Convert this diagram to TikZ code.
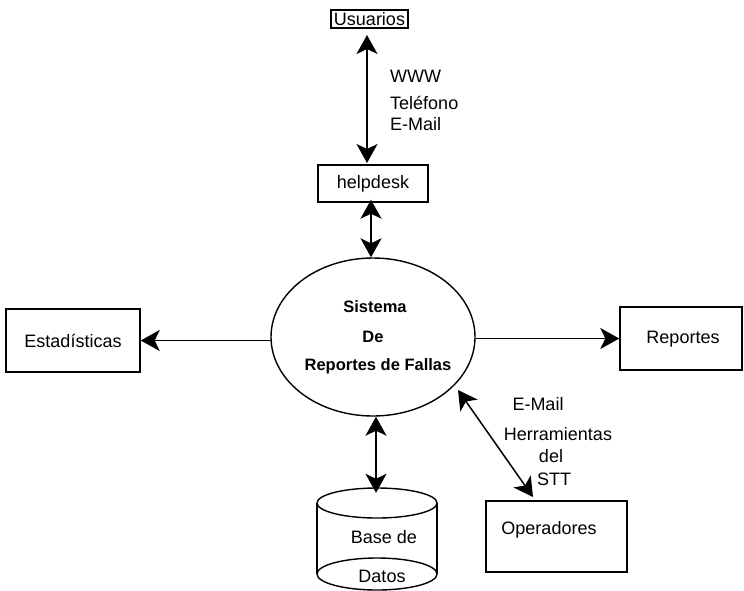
\documentclass[tikz,border=0pt]{standalone}
\usepackage{fontspec}
\setmainfont{Liberation Sans}
\usetikzlibrary{arrows.meta,shapes.geometric}
\begin{document}
\begin{tikzpicture}[x=1pt,y=-1pt,
  box/.style={draw,line width=1.4pt,inner sep=0pt,font=\fontsize{18}{18}\selectfont},
  lbl/.style={inner sep=0pt,font=\fontsize{18}{18}\selectfont},
  blbl/.style={inner sep=0pt,font=\fontsize{16.5}{16.5}\selectfont\bfseries},
  conn/.style={line width=1.5pt,{Stealth[length=19pt,width=21pt,inset=5pt]}-{Stealth[length=19pt,width=21pt,inset=5pt]}},
  oneway/.style={line width=1.4pt,-{Stealth[length=19pt,width=21pt,inset=5pt]}}]
\useasboundingbox (0,0) rectangle (744,590);
% nodes
\node[box,minimum width=77pt,minimum height=18pt] (usr) at (369.5,19) {Usuarios};
\node[box,minimum width=110pt,minimum height=37pt] (help) at (373,183.5) {helpdesk};
\node[draw,line width=1.4pt,ellipse,minimum width=204pt,minimum height=158pt,inner sep=0pt] (sys) at (373,337) {};
\node[blbl] (t1) at (375,307) {Sistema};
\node[blbl] (t2) at (373,337) {De};
\node[blbl] (t3) at (378,366) {Reportes de Fallas};
\node[box,minimum width=134pt,minimum height=63pt] (est) at (73,340.5) {Estadísticas};
\node[draw,line width=1.4pt,inner sep=0pt,minimum width=122pt,minimum height=63pt] (rep) at (681,338.5) {};
\node[lbl] at (683,339) {Reportes};
\node[draw,line width=1.4pt,inner sep=0pt,minimum width=141pt,minimum height=71pt] (ope) at (556.5,536.5) {};
\node[lbl] at (549,530) {Operadores};
% database cylinder
\node[inner sep=0pt,minimum width=120pt,minimum height=102pt] (db) at (377,539) {};
\draw[line width=1.4pt] (317,503) -- (317,574) (437,503) -- (437,574);
\draw[line width=1.4pt] (377,503) ellipse [x radius=60pt,y radius=15pt];
\draw[line width=1.4pt] (377,574) ellipse [x radius=60pt,y radius=16pt];
\node[lbl] at (384,537) {Base de};
\node[lbl] at (382,576) {Datos};
% labels
\node[lbl,anchor=west] at (390,76) {WWW};
\node[lbl,anchor=west] at (390,103) {Teléfono};
\node[lbl,anchor=west] at (390,124) {E-Mail};
\node[lbl] at (538,404) {E-Mail};
\node[lbl] at (558,434) {Herramientas};
\node[lbl] at (551,456) {del};
\node[lbl] at (554,479) {STT};
% connectors
\coordinate (a1) at (367,35);
\coordinate (a2) at (367,163);
\draw[conn] (a1) -- (a2);
\draw[conn] ([xshift=-2pt,yshift=3pt]help.south) -- ([xshift=-2pt]sys.north);
\draw[conn] ([xshift=3pt]sys.south) -- ([xshift=-1pt,yshift=-5pt]db.north);
\draw[oneway] (sys.west |- est.east) -- (est.east);
\draw[oneway] (sys.east |- rep.west) -- (rep.west);
\coordinate (d1) at (458,390);
\coordinate (d2) at (533,497);
\draw[conn] (d1) -- (d2);
\end{tikzpicture}
\end{document}
